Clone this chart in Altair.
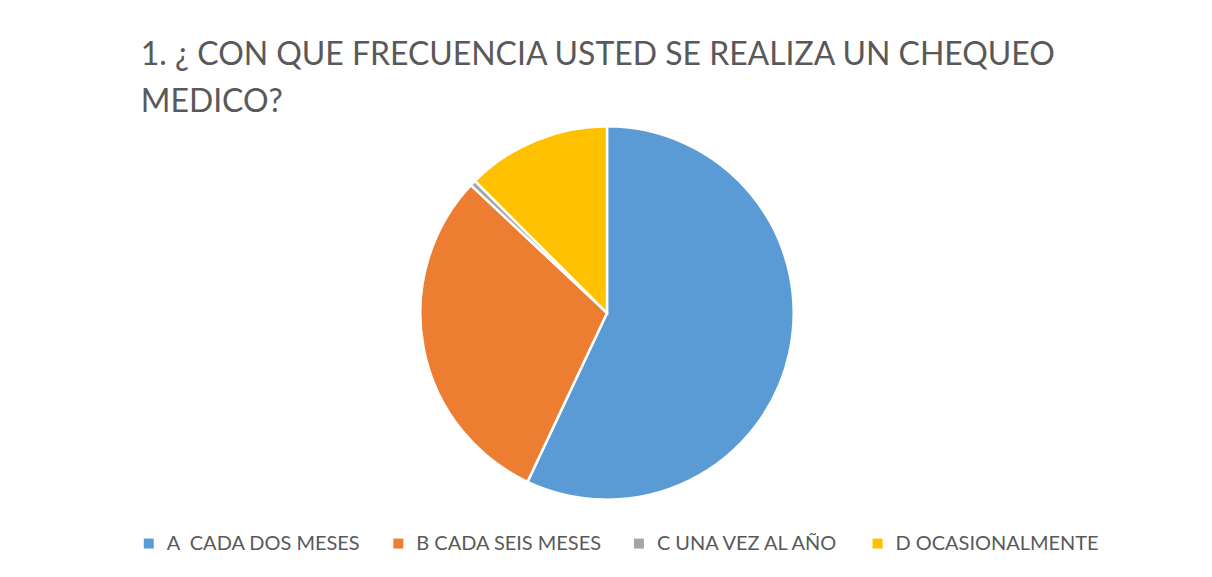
import altair as alt
import pandas as pd

categories = ["A  CADA DOS MESES", "B CADA SEIS MESES", "C UNA VEZ AL AÑO", "D OCASIONALMENTE"]
values = [114, 60, 1, 25]
colors = ["#5B9BD5", "#ED7D31", "#A5A5A5", "#FFC000"]
title_lines = ["1. ¿ CON QUE FRECUENCIA USTED SE REALIZA UN CHEQUEO", "MEDICO?"]

df = pd.DataFrame({"categoria": categories, "valor": values, "orden": list(range(len(categories)))})

FONT = "Lato"

chart = (
    alt.Chart(df)
    .mark_arc(outerRadius=187, stroke="white", strokeWidth=2.5)
    .encode(
        theta=alt.Theta("valor:Q", stack=True),
        order=alt.Order("orden:Q"),
        color=alt.Color(
            "categoria:N",
            scale=alt.Scale(domain=categories, range=colors),
            sort=categories,
            legend=alt.Legend(
                title=None,
                orient="none",
                direction="horizontal",
                columns=4,
                legendX=129,
                legendY=408,
                symbolType="square",
                symbolSize=100,
                symbolStrokeWidth=0,
                labelFont=FONT,
                labelFontSize=20,
                labelColor="#595959",
                labelOffset=8,
                columnPadding=27,
                labelLimit=400,
                labelExpr="replace(datum.label, '  ', '\u00a0 ')",
            ),
        ),
        tooltip=["categoria", "valor"],
    )
    .properties(
        width=1196,
        height=374,
        title=alt.TitleParams(
            text=title_lines,
            anchor="start",
            frame="group",
            dx=131,
            font=FONT,
            fontSize=32,
            fontWeight="normal",
            color="#595959",
            lineHeight=47,
            offset=2,
        ),
        autosize=alt.AutoSizeParams(type="none"),
        padding={"top": 118, "left": 2, "right": 0, "bottom": 60},
        background="white",
    )
    .configure_view(stroke=None)
)

chart.save("out.html", embed_options={"renderer": "svg", "actions": False})
